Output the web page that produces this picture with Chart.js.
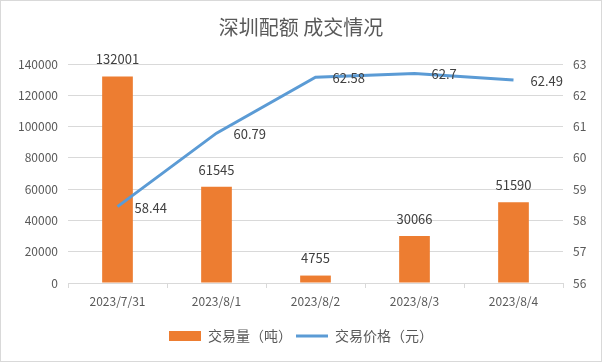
<!DOCTYPE html>
<html>
<head>
<meta charset="utf-8">
<script src="https://cdn.jsdelivr.net/npm/chart.js@4"></script>
<style>
  body { margin: 0; background: #fff; }
  #box { width: 602px; height: 362px; box-sizing: border-box; border: 1px solid #d9d9d9; }
</style>
</head>
<body>
<div id="box"><canvas id="chart1" width="600" height="360"></canvas></div>
<script>
var dates = ["2023/7/31", "2023/8/1", "2023/8/2", "2023/8/3", "2023/8/4"];
var volume = [132001, 61545, 4755, 30066, 51590];
var price = [58.44, 60.79, 62.58, 62.7, 62.49];

var font = "'Microsoft YaHei', 'Noto Sans CJK SC', sans-serif";
var grey = "#595959";

// value labels: above the bars, right of the line points
var valueLabels = {
  id: "valueLabels",
  afterDatasetsDraw: function (chart) {
    var c = chart.ctx;
    c.save();
    c.font = "13px " + font;
    c.fillStyle = "#404040";
    c.textBaseline = "middle";
    chart.getDatasetMeta(0).data.forEach(function (bar, i) {
      c.textAlign = "center";
      c.fillText(volume[i], bar.x, bar.y - 17);
    });
    chart.getDatasetMeta(1).data.forEach(function (pt, i) {
      c.textAlign = "left";
      c.fillText(price[i], pt.x + 17, pt.y + 1);
    });
    c.restore();
  }
};

new Chart(document.getElementById("chart1"), {
  data: {
    labels: dates,
    datasets: [
      {
        type: "bar",
        label: "交易量（吨）",
        data: volume,
        backgroundColor: "#ed7d31",
        barPercentage: 0.31,
        categoryPercentage: 1,
        yAxisID: "y",
        order: 1
      },
      {
        type: "line",
        label: "交易价格（元）",
        data: price,
        borderColor: "#5b9bd5",
        backgroundColor: "#5b9bd5",
        borderWidth: 3,
        pointRadius: 0,
        tension: 0,
        yAxisID: "y1",
        order: 0
      }
    ]
  },
  options: {
    responsive: false,
    animation: false,
    layout: { padding: { left: 0, right: 0, top: 0, bottom: 8 } },
    plugins: {
      title: {
        display: true,
        text: "深圳配额 成交情况",
        color: grey,
        font: { family: font, size: 20, weight: "normal" },
        padding: { top: 14, bottom: 25 }
      },
      legend: {
        position: "bottom",
        labels: {
          color: grey,
          font: { family: font, size: 14 },
          usePointStyle: true,
          pointStyleWidth: 32,
          boxHeight: 10,
          padding: 4,
          generateLabels: function (chart) {
            var items = Chart.defaults.plugins.legend.labels.generateLabels(chart);
            items.sort(function (a, b) { return a.datasetIndex - b.datasetIndex; });
            items.forEach(function (it) {
              if (it.datasetIndex === 0) {
                it.pointStyle = "rect";
                it.lineWidth = 0;
                it.fillStyle = "#ed7d31";
              } else {
                it.pointStyle = "line";
                it.lineWidth = 3;
                it.strokeStyle = "#5b9bd5";
              }
            });
            return items;
          }
        }
      },
      tooltip: { enabled: false }
    },
    scales: {
      x: {
        grid: { offset: true, drawOnChartArea: false, color: "#d9d9d9", tickLength: 5 },
        border: { color: "#d9d9d9" },
        ticks: { color: grey, font: { family: font, size: 12 }, padding: 6, maxRotation: 0 },
        afterFit: function (s) { s.height = 42; }
      },
      y: {
        position: "left",
        min: 0,
        max: 140000,
        ticks: {
          stepSize: 20000, color: grey, font: { family: font, size: 12 }, padding: 10,
          callback: function (v) { return v; }
        },
        grid: { color: "#d9d9d9", drawTicks: false },
        border: { display: false },
        afterFit: function (s) { s.width = 67; }
      },
      y1: {
        position: "right",
        min: 56,
        max: 63,
        ticks: { stepSize: 1, color: grey, font: { family: font, size: 12 }, padding: 10 },
        grid: { drawOnChartArea: false, drawTicks: false },
        border: { display: false },
        afterFit: function (s) { s.width = 38; }
      }
    }
  },
  plugins: [valueLabels]
});
</script>
</body>
</html>
